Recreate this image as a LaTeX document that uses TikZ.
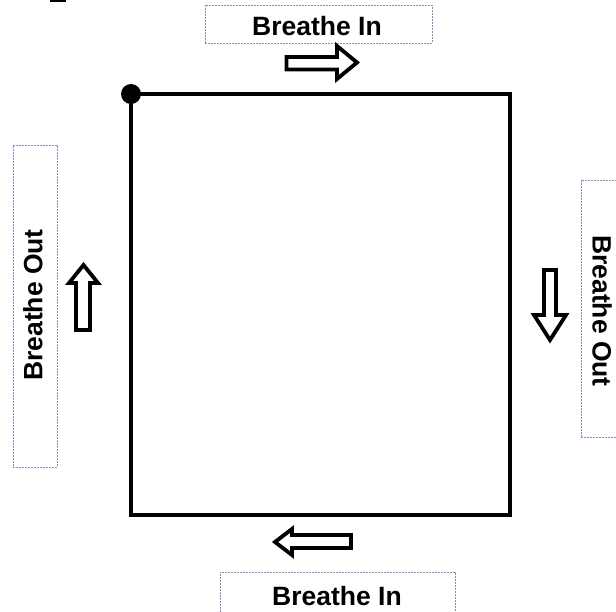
\documentclass[tikz,border=0pt]{standalone}
\usepackage{fontspec}
\setmainfont{Liberation Sans}
\definecolor{boxc}{RGB}{120,145,185}
\begin{document}
\begin{tikzpicture}[x=1pt,y=-1pt,
  lbl/.style={font=\fontsize{26.5}{30}\selectfont\bfseries, inner sep=0pt},
  dbox/.style={draw=boxc, dash pattern=on 2pt off 1pt, line width=0.9pt, inner sep=0pt},
  barrow/.style={draw=black, fill=white, line width=3.8pt, line join=miter},
  sq/.style={draw=black, line width=3.8pt}]
\useasboundingbox (0,0) rectangle (616,612);
\clip (0,0) rectangle (616,612);
\fill (50,0) rectangle (66,2);
% boxes
\node[dbox, minimum width=227pt, minimum height=38pt] (tbox) at (318.5,24) {};
\node[dbox, minimum width=44pt, minimum height=322pt] (lbox) at (35,306) {};
\node[dbox, minimum width=44pt, minimum height=257pt] (rbox) at (603,308.5) {};
\node[dbox, minimum width=235pt, minimum height=44pt] (bbox) at (337.5,594) {};
% labels
\node[lbl] (ttext) at (317,26.5) {Breathe In};
\node[lbl] (btext) at (337,596) {Breathe In};
\node[lbl, rotate=90] (ltext) at (33,305) {Breathe Out};
\node[lbl, rotate=-90] (rtext) at (602,311) {Breathe Out};
% square
\coordinate (tl) at (131,94);
\coordinate (br) at (510,515);
\draw[sq] (tl) rectangle (br);
\fill (tl) circle (10);
% block arrows
\draw[barrow] (286.5,57) -- (337,57) -- (337,46) -- (357,62.5) -- (337,79) -- (337,69.5) -- (286.5,69.5) -- cycle;
\draw[barrow] (76,330) -- (76,283) -- (69,283) -- (83.5,265) -- (98,283) -- (90,283) -- (90,330) -- cycle;
\draw[barrow] (544,270) -- (556,270) -- (556,315) -- (566,315) -- (550,340) -- (534,315) -- (544,315) -- cycle;
\draw[barrow] (351,535) -- (292,535) -- (292,529) -- (275,542) -- (292,555) -- (292,548) -- (351,548) -- cycle;
\end{tikzpicture}
\end{document}
